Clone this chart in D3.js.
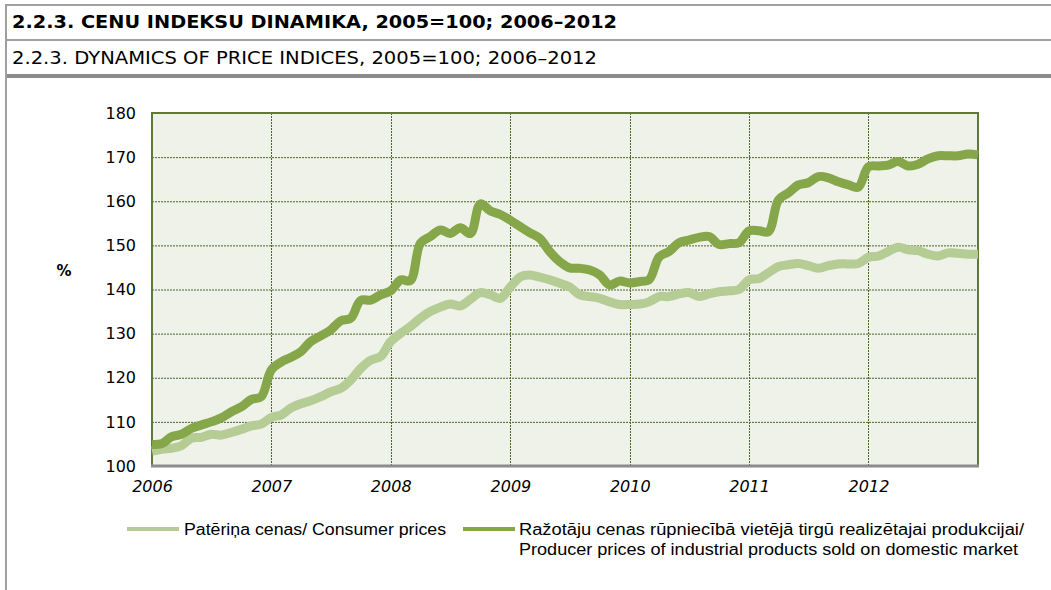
<!DOCTYPE html>
<html>
<head>
<meta charset="utf-8">
<script src="https://cdn.jsdelivr.net/npm/d3@7"></script>
<style>
  body { margin: 0; background: #fff; }
  svg { display: block; }
</style>
</head>
<body>
<svg id="chart" width="1051" height="590"></svg>
<script>
// virsraksti
const titleLv = "2.2.3. CENU INDEKSU DINAMIKA, 2005=100; 2006–2012";
const titleEn = "2.2.3. DYNAMICS OF PRICE INDICES, 2005=100; 2006–2012";

// gadi uz X ass
const years = [2006, 2007, 2008, 2009, 2010, 2011, 2012];
const yTicks = [100, 110, 120, 130, 140, 150, 160, 170, 180];

// patēriņa cenas, katrs mēnesis no 2006-01 līdz 2012-12
const consumer = [
  103.4, 103.8, 104.0, 104.6, 106.3, 106.5, 107.2, 107.0, 107.6, 108.3, 109.1, 109.5,
  111.0, 111.6, 113.1, 114.1, 114.8, 115.7, 116.8, 117.6, 119.5, 122.1, 124.0, 124.8,
  128.2, 130.1, 131.6, 133.5, 135.0, 136.0, 136.7, 136.3, 137.8, 139.3, 138.8, 138.0,
  140.6, 142.9, 143.3, 142.8, 142.2, 141.4, 140.6, 138.8, 138.4, 138.0, 137.2, 136.6,
  136.6, 136.7, 137.2, 138.4, 138.4, 139.0, 139.3, 138.4, 139.0, 139.5, 139.7, 140.0,
  142.2, 142.5, 143.8, 145.2, 145.6, 145.9, 145.4, 144.8, 145.4, 145.8, 145.8, 145.9,
  147.3, 147.6, 148.6, 149.6, 149.0, 148.8, 148.0, 147.6, 148.3, 148.2, 148.0, 148.0
];

// ražotāju cenas
const producer = [
  104.9, 105.1, 106.6, 107.2, 108.5, 109.3, 110.0, 110.9, 112.3, 113.4, 115.1, 115.7,
  121.8, 123.6, 124.6, 125.9, 128.2, 129.5, 130.8, 132.9, 133.5, 137.5, 137.6, 138.8,
  139.7, 142.2, 142.0, 150.5, 152.0, 153.5, 152.7, 154.0, 152.7, 159.4, 157.8, 157.0,
  155.7, 154.2, 152.9, 151.6, 148.6, 146.3, 144.9, 144.8, 144.4, 143.3, 141.0, 141.9,
  141.5, 141.8, 142.2, 147.4, 148.6, 150.6, 151.2, 151.8, 152.0, 150.2, 150.4, 150.6,
  153.3, 153.3, 153.1, 160.3, 161.9, 163.7, 164.2, 165.6, 165.3, 164.4, 163.7, 163.2,
  167.8, 168.0, 168.2, 169.0, 168.0, 168.4, 169.6, 170.3, 170.3, 170.3, 170.7, 170.5
];

const legendConsumer = ["Patēriņa cenas/ Consumer prices"];
const legendProducer = [
  "Ražotāju cenas rūpniecībā vietējā tirgū realizētajai produkcijai/",
  "Producer prices of industrial products sold on domestic market"
];

const colors = { consumer: "#b5cc95", producer: "#86a64a" };
const mainFont = "'DejaVu Sans', Verdana, sans-serif";

const svg = d3.select("#chart");

// rāmis un virsraksti
svg.append("rect").attr("x", 5).attr("y", 4).attr("width", 1046).attr("height", 2).attr("fill", "#a0a0a0");
svg.append("rect").attr("x", 5).attr("y", 39).attr("width", 1046).attr("height", 2).attr("fill", "#a0a0a0");
svg.append("rect").attr("x", 5).attr("y", 74).attr("width", 1046).attr("height", 4).attr("fill", "#8c8c8c");
svg.append("rect").attr("x", 5).attr("y", 4).attr("width", 2).attr("height", 586).attr("fill", "#a0a0a0");

svg.append("text")
  .attr("x", 12).attr("y", 28)
  .style("font-family", mainFont)
  .style("font-weight", "bold").style("font-size", "17px")
  .attr("textLength", 605).attr("lengthAdjust", "spacingAndGlyphs")
  .text(titleLv);

svg.append("text")
  .attr("x", 12).attr("y", 64)
  .style("font-family", mainFont)
  .style("font-size", "17px")
  .attr("textLength", 585).attr("lengthAdjust", "spacingAndGlyphs")
  .text(titleEn);

// laukuma parametri
const area = { left: 152, right: 978, top: 113, bottom: 466 };

const dates = consumer.map((d, i) => new Date(2006, i, 1));

const scX = d3.scaleTime()
  .domain([dates[0], dates[dates.length - 1]])
  .range([area.left, area.right]);

const scY = d3.scaleLinear()
  .domain([100, 180])
  .range([area.bottom, area.top]);

// fons
svg.append("rect")
  .attr("x", area.left).attr("y", area.top)
  .attr("width", area.right - area.left).attr("height", area.bottom - area.top)
  .attr("fill", "#eef2e9");

// režģis
const grid = svg.append("g");
grid.selectAll(".gy")
  .data(yTicks.slice(1, -1))
  .enter().append("line")
  .attr("x1", area.left).attr("x2", area.right)
  .attr("y1", d => scY(d) + 0.5).attr("y2", d => scY(d) + 0.5)
  .attr("stroke", "#4f6228").attr("stroke-width", 1)
  .attr("stroke-dasharray", "2,1");

grid.selectAll(".gx")
  .data(years.slice(1))
  .enter().append("line")
  .attr("x1", d => Math.round(scX(new Date(d, 0, 1))) + 0.5)
  .attr("x2", d => Math.round(scX(new Date(d, 0, 1))) + 0.5)
  .attr("y1", area.top).attr("y2", area.bottom)
  .attr("stroke", "#4f6228").attr("stroke-width", 1)
  .attr("stroke-dasharray", "2,1");

// rāmis ap laukumu
svg.append("path")
  .attr("d", `M${area.left},${area.bottom} V${area.top} H${area.right} V${area.bottom}`)
  .attr("fill", "none").attr("stroke", "#5e7a33").attr("stroke-width", 2);

// līnijas
const line = d3.line()
  .x((d, i) => scX(dates[i]))
  .y(d => scY(d))
  .curve(d3.curveCatmullRom.alpha(0.5));

svg.append("path")
  .datum(consumer)
  .attr("d", line)
  .attr("fill", "none").attr("stroke", colors.consumer)
  .attr("stroke-width", 9).attr("stroke-linejoin", "round");

svg.append("path")
  .datum(producer)
  .attr("d", line)
  .attr("fill", "none").attr("stroke", colors.producer)
  .attr("stroke-width", 9).attr("stroke-linejoin", "round");

// asis
let axisX = d3.axisBottom(scX)
  .tickValues(years.map(y => new Date(y, 0, 1)))
  .tickFormat(d3.timeFormat("%Y"))
  .tickSize(0).tickPadding(15);

let gX = svg.append("g")
  .attr("transform", `translate(0, ${area.bottom})`)
  .call(axisX);
gX.select(".domain").attr("stroke", "#8c8c8c").attr("stroke-width", 3)
  .attr("d", `M${area.left - 1},0 H${area.right + 1}`);
gX.selectAll("text")
  .style("font-family", mainFont)
  .style("font-style", "italic").style("font-size", "16px").attr("fill", "#000");

let axisY = d3.axisLeft(scY)
  .tickValues(yTicks)
  .tickSize(0).tickPadding(16);

let gY = svg.append("g")
  .attr("transform", `translate(${area.left}, 0)`)
  .call(axisY);
gY.select(".domain").remove();
gY.selectAll("text")
  .style("font-family", mainFont)
  .style("font-size", "16px").attr("fill", "#000");

svg.append("text")
  .attr("x", 64).attr("y", 276)
  .attr("text-anchor", "middle")
  .style("font-family", mainFont)
  .style("font-weight", "bold").style("font-size", "15px")
  .text("%");

// leģenda
const legendFont = "'Liberation Sans Narrow', 'Arial Narrow', 'Liberation Sans', sans-serif";

svg.append("line")
  .attr("x1", 127).attr("x2", 179).attr("y1", 529).attr("y2", 529)
  .attr("stroke", colors.consumer).attr("stroke-width", 4);
svg.append("text")
  .attr("x", 184).attr("y", 535)
  .style("font-family", legendFont).style("font-size", "16px")
  .attr("textLength", 262).attr("lengthAdjust", "spacingAndGlyphs")
  .text(legendConsumer[0]);

svg.append("line")
  .attr("x1", 463).attr("x2", 515).attr("y1", 529).attr("y2", 529)
  .attr("stroke", colors.producer).attr("stroke-width", 4);
svg.selectAll(".lp")
  .data(legendProducer)
  .enter().append("text")
  .attr("x", 519).attr("y", (d, i) => 535 + i * 20)
  .style("font-family", legendFont).style("font-size", "16px")
  .attr("textLength", (d, i) => i === 0 ? 505 : 499)
  .attr("lengthAdjust", "spacingAndGlyphs")
  .text(d => d);
</script>
</body>
</html>
